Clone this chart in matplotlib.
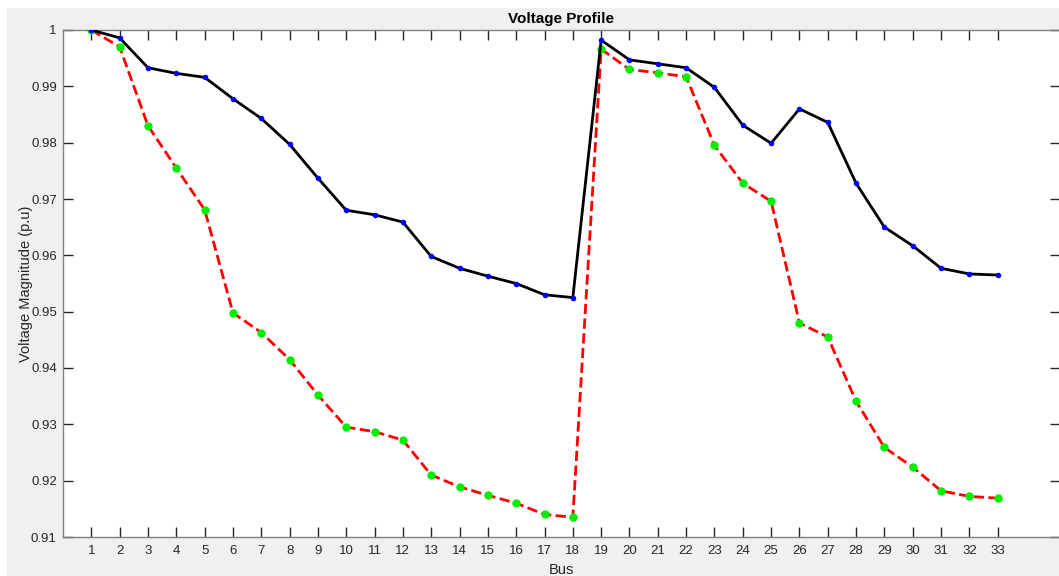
import matplotlib
matplotlib.use('Agg')
import matplotlib.pyplot as plt
from matplotlib.patches import Rectangle
import numpy as np

# bus numbers and voltage magnitudes (p.u)
bus = list(range(1, 34))
v_base = [1.0, 0.9970, 0.9830, 0.9755, 0.9681, 0.9498, 0.9463, 0.9415, 0.9352,
          0.9295, 0.9287, 0.9272, 0.9210, 0.9189, 0.9174, 0.9160, 0.9140, 0.9135,
          0.9966, 0.9930, 0.9924, 0.9917, 0.9795, 0.9728, 0.9696, 0.9480, 0.9455,
          0.9341, 0.9259, 0.9224, 0.9182, 0.9172, 0.9169]
v_new = [1.0, 0.9986, 0.9933, 0.9923, 0.9916, 0.9878, 0.9843, 0.9797, 0.9737,
         0.9680, 0.9672, 0.9659, 0.9598, 0.9577, 0.9563, 0.9550, 0.9530, 0.9525,
         0.9982, 0.9947, 0.9940, 0.9933, 0.9898, 0.9831, 0.9799, 0.9860, 0.9836,
         0.9728, 0.9650, 0.9617, 0.9577, 0.9567, 0.9565]
yticks = [0.91, 0.92, 0.93, 0.94, 0.95, 0.96, 0.97, 0.98, 0.99, 1.0]
ytick_labels = ['0.91', '0.92', '0.93', '0.94', '0.95', '0.96', '0.97', '0.98', '0.99', '1']

plt.rcParams['font.family'] = ['Liberation Sans', 'DejaVu Sans']
txt = '#262626'

fig = plt.figure(figsize=(10.59, 5.76), dpi=100)
fig.patch.set_facecolor('white')
# MATLAB-like gray panel, white strip at top and left
fig.patches.append(Rectangle((7 / 1059, 0), 1, 1 - 8 / 576, transform=fig.transFigure,
                             facecolor='#f0f0f0', edgecolor='none', zorder=-10))

ax = fig.add_axes([63 / 1059, 39 / 576, 997 / 1059, 507 / 576])
ax.set_facecolor('white')

ax.plot(bus, v_base, '--', color='#ff0000', linewidth=2, zorder=2)
ax.plot(bus, v_base, 'o', color='#00ee00', markersize=6, markeredgewidth=0, zorder=3)
ax.plot(bus, v_new, '-', color='black', linewidth=2, zorder=4)
ax.plot(bus, v_new, 'o', color='#0000ff', markersize=4, markeredgewidth=0, zorder=5)

ax.set_xlim(0, 35.2)
ax.set_ylim(0.91, 1.0)
ax.set_xticks(bus)
ax.set_xticklabels([str(b) for b in bus])
ax.set_yticks(yticks)
ax.set_yticklabels(ytick_labels)
ax.tick_params(direction='in', length=7, width=1, colors=txt, labelsize=9.5,
               top=True, right=True, pad=6)
ax.tick_params(axis='y', pad=4.5)
for s in ax.spines.values():
    s.set_color('#808080')
    s.set_linewidth(1)

ax.set_title('Voltage Profile', fontsize=11, fontweight='bold', color='black', pad=5)
ax.set_xlabel('Bus', fontsize=10.5, color=txt, labelpad=4)
ax.set_ylabel('Voltage Magnitude (p.u)', fontsize=10.5, color=txt)
ax.yaxis.set_label_coords((33 - 63) / 997, 0.5)

fig.savefig('out.png', dpi=100, facecolor=fig.get_facecolor())
